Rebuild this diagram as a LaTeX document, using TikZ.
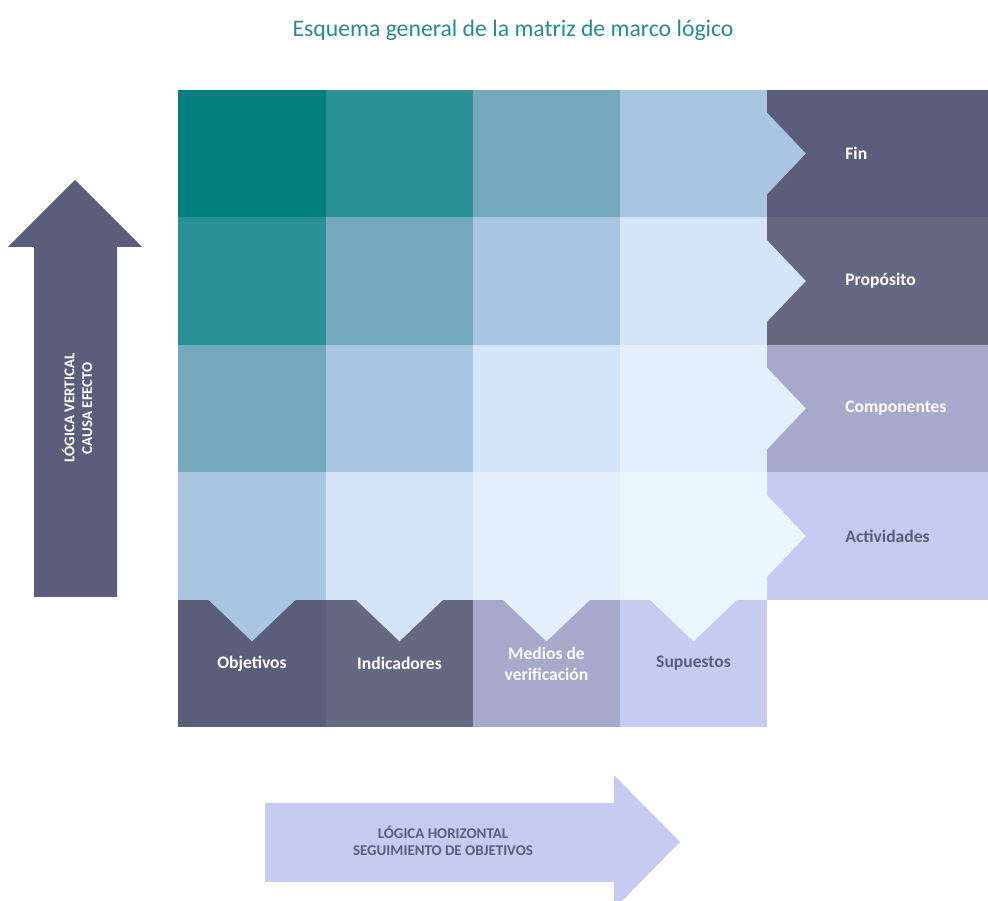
\documentclass[tikz,border=0pt]{standalone}
\usepackage{fontspec}
\setmainfont{Carlito}
\usepackage{tikz}
\usetikzlibrary{calc, positioning}

\definecolor{tealT}{HTML}{2A8A94}
\definecolor{tealA}{HTML}{007F7F}
\definecolor{tealB}{HTML}{2A9097}
\definecolor{blueC}{HTML}{74A8BD}
\definecolor{blueD}{HTML}{A8C6E1}
\definecolor{blueE}{HTML}{D4E4F9}
\definecolor{blueF}{HTML}{E3F0FC}
\definecolor{blueG}{HTML}{E9F6FE}
\definecolor{darkA}{HTML}{5B5E7B}
\definecolor{darkB}{HTML}{646880}
\definecolor{lilacA}{HTML}{A6A9C9}
\definecolor{lilacB}{HTML}{C6CCF1}

\begin{document}
\begin{tikzpicture}[x=0.02cm, y=-0.02cm,
            cell/.style={rectangle, inner sep=0pt, minimum width=2.96cm, minimum height=2.56cm},
            rowbox/.style={rectangle, inner sep=0pt, minimum width=4.46cm, minimum height=2.56cm},
            lbl/.style={font=\fontsize{10}{12}\selectfont\bfseries, text=white, align=center},
            biglbl/.style={font=\fontsize{8.5}{10}\selectfont\bfseries, align=center}]

            \fill[white] (0,0) rectangle (988,901);
            \useasboundingbox (0,0) rectangle (988,901);
            \clip (0,0) rectangle (988,901);

            \node[font=\fontsize{13.5}{16}\selectfont, text=tealT] (title) at (513,30) {Esquema general de la matriz de marco lógico};

            % matriz
            \node[cell, fill=tealA] (c11) at (252,153.5) {};
            \node[cell, fill=tealB] (c12) at (399.5,153.5) {};
            \node[cell, fill=blueC] (c13) at (546.5,153.5) {};
            \node[cell, fill=blueD] (c14) at (693.5,153.5) {};
            \node[cell, fill=tealB] (c21) at (252,281) {};
            \node[cell, fill=blueC] (c22) at (399.5,281) {};
            \node[cell, fill=blueD] (c23) at (546.5,281) {};
            \node[cell, fill=blueE] (c24) at (693.5,281) {};
            \node[cell, fill=blueC] (c31) at (252,408.5) {};
            \node[cell, fill=blueD] (c32) at (399.5,408.5) {};
            \node[cell, fill=blueE] (c33) at (546.5,408.5) {};
            \node[cell, fill=blueF] (c34) at (693.5,408.5) {};
            \node[cell, fill=blueD] (c41) at (252,536) {};
            \node[cell, fill=blueE] (c42) at (399.5,536) {};
            \node[cell, fill=blueF] (c43) at (546.5,536) {};
            \node[cell, fill=blueG] (c44) at (693.5,536) {};

            % columna derecha
            \node[rowbox, fill=darkA] (fin) at (878,153.5) {};
            \node[rowbox, fill=darkB] (proposito) at (878,281) {};
            \node[rowbox, fill=lilacA] (componentes) at (878,408.5) {};
            \node[rowbox, fill=lilacB] (actividades) at (878,536) {};

            % fila inferior
            \node[cell, lbl, fill=darkA] (objetivos) at (252,663.5) {Objetivos};
            \node[cell, lbl, fill=darkB] (indicadores) at (399.5,663.5) {Indicadores};
            \node[cell, lbl, fill=lilacA, text=white!92!lilacB] (medios) at (546.5,663.5) {Medios de\\verificación};
            \node[cell, lbl, fill=lilacB, text=darkA] (supuestos) at (693.5,663.5) {Supuestos};

            % flechas de la matriz
            \fill[blueD] ($(c14.east)+(-1,-41)$) -- ($(c14.east)+(38,0)$) -- ($(c14.east)+(-1,41)$) -- cycle;
            \fill[blueE] ($(c24.east)+(-1,-41)$) -- ($(c24.east)+(38,0)$) -- ($(c24.east)+(-1,41)$) -- cycle;
            \fill[blueF] ($(c34.east)+(-1,-41)$) -- ($(c34.east)+(38,0)$) -- ($(c34.east)+(-1,41)$) -- cycle;
            \fill[blueG] ($(c44.east)+(-1,-41)$) -- ($(c44.east)+(38,0)$) -- ($(c44.east)+(-1,41)$) -- cycle;
            \fill[blueD] ($(c41.south)+(-44,-1)$) -- ($(c41.south)+(0,41)$) -- ($(c41.south)+(44,-1)$) -- cycle;
            \fill[blueE] ($(c42.south)+(-44,-1)$) -- ($(c42.south)+(0,41)$) -- ($(c42.south)+(44,-1)$) -- cycle;
            \fill[blueF] ($(c43.south)+(-44,-1)$) -- ($(c43.south)+(0,41)$) -- ($(c43.south)+(44,-1)$) -- cycle;
            \fill[blueG] ($(c44.south)+(-44,-1)$) -- ($(c44.south)+(0,41)$) -- ($(c44.south)+(44,-1)$) -- cycle;

            \node[lbl, right=1.46cm of fin.west] (fintext) {Fin};
            \node[lbl, right=1.46cm of proposito.west] (propositotext) {Propósito};
            \node[lbl, right=1.46cm of componentes.west] (componentestext) {Componentes};
            \node[lbl, right=1.46cm of actividades.west, text=darkA] (actividadestext) {Actividades};

            % logica vertical
            \fill[darkA] (34,597) -- (34,247) -- (8,247) -- (75,180) -- (142,247) -- (117,247) -- (117,597) -- cycle;
            \node[biglbl, text=white, rotate=90] (vertical) at (77,408) {LÓGICA VERTICAL\\CAUSA EFECTO};

            % logica horizontal
            \fill[lilacB] (265,803) -- (614,803) -- (614,775) -- (680,842) -- (614,909) -- (614,882) -- (265,882) -- cycle;
            \node[biglbl, text=darkA] (horizontal) at (443,841) {LÓGICA HORIZONTAL\\SEGUIMIENTO DE OBJETIVOS};
        \end{tikzpicture}
\end{document}
